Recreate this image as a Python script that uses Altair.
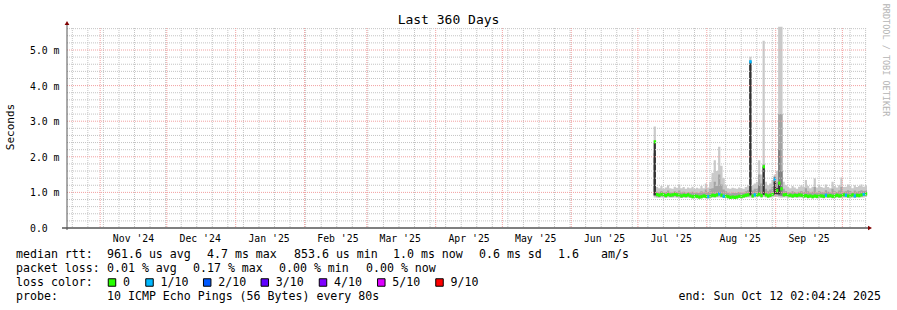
import altair as alt
import pandas as pd
from datetime import datetime, timedelta

# ---------------- data ----------------
END = datetime(2025, 10, 12, 2, 4, 24)
START = END - timedelta(days=360)
SPAN = 360.0
YMAX = 5.618

first_day = 264  # day offset (from START) of first sample

median = [2.42, 0.94, 0.92, 0.95, 0.93, 0.91, 0.94, 0.92, 0.93, 0.95, 0.93, 0.92, 0.90, 0.92, 0.91, 0.93,
          0.90, 0.88, 0.90, 0.89, 0.87, 0.88, 0.90, 0.89, 0.88, 0.90,
          0.92, 0.91, 0.93, 0.96, 0.92, 0.89, 0.90, 0.88, 0.86, 0.87,
          0.86, 0.87, 0.89, 0.88, 0.90, 0.92, 0.93,
          4.67, 0.90, 0.93, 0.92, 0.95, 0.91, 1.72,
          0.93, 0.90, 0.92, 0.95, 1.37, 1.05, 1.26, 1.10,
          0.93, 0.94, 0.91, 0.92, 0.90, 0.92, 0.91, 0.93,
          0.92, 0.90, 0.91, 0.89, 0.90, 0.88, 0.90, 0.89, 0.91, 0.90,
          0.89, 0.92, 0.90, 0.91, 0.89, 0.90, 0.92, 0.90, 0.91, 0.93,
          0.92, 0.90, 0.91, 0.93, 0.90, 0.92, 0.91, 0.93, 0.95, 0.96]

loss_days = [288, 293, 295, 307, 309, 318, 341, 350, 354, 358]  # 1/10 loss

smoke_lo = [0.86, 0.85, 0.84, 0.86, 0.85, 0.84, 0.86, 0.85, 0.85, 0.86, 0.85, 0.84, 0.84, 0.85, 0.84, 0.85,
            0.84, 0.83, 0.84, 0.83, 0.82, 0.83, 0.84, 0.83, 0.83, 0.84,
            0.85, 0.85, 0.86, 0.86, 0.85, 0.84, 0.84, 0.83, 0.82, 0.82,
            0.82, 0.83, 0.84, 0.83, 0.84, 0.85, 0.86,
            0.86, 0.85, 0.86, 0.86, 0.87, 0.85, 0.87,
            0.86, 0.84, 0.85, 0.86, 0.87, 0.87, 0.86, 0.85,
            0.86, 0.86, 0.85, 0.85, 0.84, 0.85, 0.84, 0.85,
            0.85, 0.84, 0.84, 0.83, 0.84, 0.83, 0.84, 0.83, 0.84, 0.84,
            0.83, 0.84, 0.84, 0.84, 0.83, 0.84, 0.85, 0.84, 0.84, 0.85,
            0.85, 0.84, 0.84, 0.85, 0.84, 0.85, 0.85, 0.86, 0.86, 0.87]

smoke_hi = [2.85, 1.15, 1.12, 1.18, 1.10, 1.14, 1.20, 1.12, 1.10, 1.16, 1.13, 1.22, 1.12, 1.15, 1.10, 1.14,
            1.12, 1.16, 1.10, 1.13, 1.11, 1.18, 1.12, 1.25, 1.14, 1.30,
            1.55, 1.90, 1.60, 2.28, 1.75, 1.40, 1.20, 1.12, 1.10, 1.13,
            1.12, 1.10, 1.14, 1.12, 1.10, 1.15, 1.20,
            4.81, 1.20, 1.25, 1.30, 1.90, 1.50, 5.26,
            1.30, 1.20, 1.25, 1.35, 1.50, 1.60, 5.65, 5.65,
            1.30, 1.20, 1.15, 1.12, 1.18, 1.14, 1.10, 1.16,
            1.20, 1.15, 1.35, 1.18, 1.12, 1.16, 1.40, 1.14, 1.20, 1.15,
            1.13, 1.22, 1.15, 1.12, 1.30, 1.18, 1.14, 1.20, 1.42, 1.15,
            1.16, 1.22, 1.18, 1.12, 1.20, 1.15, 1.18, 1.22, 1.16, 1.20]

inner_lo = [0.90, 0.88, 0.87, 0.89, 0.88, 0.87, 0.89, 0.88, 0.88, 0.89, 0.88, 0.87, 0.86, 0.88, 0.87, 0.88,
            0.87, 0.85, 0.87, 0.86, 0.85, 0.86, 0.87, 0.86, 0.86, 0.87,
            0.88, 0.88, 0.89, 0.90, 0.88, 0.87, 0.87, 0.86, 0.84, 0.85,
            0.84, 0.85, 0.87, 0.86, 0.87, 0.88, 0.89,
            0.90, 0.88, 0.89, 0.89, 0.90, 0.88, 0.91,
            0.89, 0.87, 0.88, 0.90, 0.91, 0.92, 0.90, 0.89,
            0.89, 0.90, 0.88, 0.88, 0.87, 0.88, 0.87, 0.88,
            0.88, 0.87, 0.87, 0.86, 0.87, 0.86, 0.87, 0.86, 0.87, 0.87,
            0.86, 0.88, 0.87, 0.87, 0.86, 0.87, 0.88, 0.87, 0.87, 0.89,
            0.88, 0.87, 0.87, 0.89, 0.87, 0.88, 0.88, 0.89, 0.90, 0.91]

inner_hi = [2.00, 1.02, 1.00, 1.04, 0.99, 1.01, 1.05, 1.00, 1.00, 1.03, 1.01, 1.06, 1.00, 1.02, 0.99, 1.01,
            1.00, 1.02, 0.98, 1.00, 0.98, 1.03, 1.00, 1.08, 1.01, 1.10,
            1.12, 1.30, 1.18, 1.50, 1.22, 1.08, 1.03, 0.99, 0.97, 0.99,
            0.98, 0.98, 1.01, 1.00, 0.99, 1.03, 1.06,
            4.70, 1.05, 1.10, 1.12, 1.50, 1.25, 1.80,
            1.10, 1.03, 1.08, 1.15, 1.44, 1.30, 3.20, 3.20,
            1.10, 1.04, 1.01, 1.00, 1.03, 1.01, 0.99, 1.02,
            1.04, 1.01, 1.12, 1.03, 1.00, 1.02, 1.15, 1.00, 1.04, 1.01,
            1.00, 1.06, 1.02, 1.00, 1.10, 1.03, 1.01, 1.05, 1.15, 1.02,
            1.03, 1.06, 1.04, 1.00, 1.05, 1.02, 1.04, 1.06, 1.04, 1.06]

dark_days = [264, 311, 318, 320, 321]
dark_lo = [0.92, 0.92, 0.93, 0.92, 0.91]
dark_hi = [2.10, 1.20, 1.44, 2.20, 1.60]

black_days = [264, 307, 313, 318, 319, 320]
black_lo = [0.92, 0.92, 0.93, 0.95, 0.95, 0.95]
black_hi = [2.42, 4.67, 1.72, 1.30, 1.12, 1.26]

month_labels = ["Nov '24", "Dec '24", "Jan '25", "Feb '25", "Mar '25", "Apr '25",
                "May '25", "Jun '25", "Jul '25", "Aug '25", "Sep '25"]
month_label_dates = [datetime(2024, 11, 16), datetime(2024, 12, 16), datetime(2025, 1, 16),
                     datetime(2025, 2, 16), datetime(2025, 3, 16), datetime(2025, 4, 16),
                     datetime(2025, 5, 16), datetime(2025, 6, 16), datetime(2025, 7, 16),
                     datetime(2025, 8, 16), datetime(2025, 9, 16)]
month_starts = [datetime(2024, 11, 1), datetime(2024, 12, 1), datetime(2025, 1, 1),
                datetime(2025, 2, 1), datetime(2025, 3, 1), datetime(2025, 4, 1),
                datetime(2025, 5, 1), datetime(2025, 6, 1), datetime(2025, 7, 1),
                datetime(2025, 8, 1), datetime(2025, 9, 1), datetime(2025, 10, 1)]
y_ticks = [0, 1, 2, 3, 4, 5]

loss_names = ["0", "1/10", "2/10", "3/10", "4/10", "5/10", "9/10"]
loss_colors = ["#26ff00", "#00b8ff", "#0059ff", "#5e00ff", "#7e00ff", "#dd00ff", "#ff0000"]

# ---------------- helpers ----------------
MONO = "DejaVu Sans Mono"
PL, PT = 67, 28  # plot origin in page pixels
W, H = 800, 200


def dayof(dt):
    return (dt - START).total_seconds() / 86400.0


xs = alt.Scale(domain=[0, SPAN], nice=False, zero=False)
ys = alt.Scale(domain=[0, YMAX], nice=False, zero=False)

days = [first_day + i for i in range(len(median))]
smoke = pd.DataFrame({"day": days, "lo": smoke_lo, "hi": smoke_hi, "lo2": inner_lo, "hi2": inner_hi})
smoke = pd.concat([smoke, smoke.tail(1).assign(day=SPAN)], ignore_index=True)

med = pd.DataFrame({"day": days, "m": median,
                    "loss": ["1/10" if d in loss_days else "0" for d in days]})
dark = pd.DataFrame({"day": dark_days, "lo": dark_lo, "hi": dark_hi})
black = pd.DataFrame({"day": black_days, "lo": black_lo, "hi": black_hi})

band1 = alt.Chart(smoke).mark_area(interpolate="step-after", color="#cacaca").encode(
    x=alt.X("day:Q", scale=xs, axis=None), y=alt.Y("lo:Q", scale=ys, axis=None), y2="hi:Q")
band2 = alt.Chart(smoke).mark_area(interpolate="step-after", color="#a4a4a4").encode(
    x=alt.X("day:Q", scale=xs, axis=None), y=alt.Y("lo2:Q", scale=ys, axis=None), y2="hi2:Q")
band3 = alt.Chart(dark).transform_calculate(d2="datum.day + 1").mark_rect(color="#7e7e7e").encode(
    x=alt.X("day:Q", scale=xs, axis=None), x2="d2:Q", y=alt.Y("lo:Q", scale=ys, axis=None), y2="hi:Q")
band5 = alt.Chart(black).transform_calculate(d2="datum.day + 1").mark_rect(color="#323232").encode(
    x=alt.X("day:Q", scale=xs, axis=None), x2="d2:Q", y=alt.Y("lo:Q", scale=ys, axis=None), y2="hi:Q")

half = 1.6 * YMAX / H
med_layer = alt.Chart(med).transform_calculate(
    d2="datum.day + 1.1", a=f"datum.m - {half}", b=f"datum.m + {half}"
).mark_rect().encode(
    x=alt.X("day:Q", scale=xs, axis=None), x2="d2:Q",
    y=alt.Y("a:Q", scale=ys, axis=None), y2="b:Q",
    color=alt.Color("loss:N", scale=alt.Scale(domain=loss_names, range=loss_colors), legend=None))

# grid
minor_h = [round(0.2 * k, 1) for k in range(1, 29) if k % 5 != 0]
major_h = [1, 2, 3, 4, 5]
minor_v = [2.385 + 7 * k for k in range(0, 52) if 2.385 + 7 * k < SPAN]
major_v = [dayof(d) for d in month_starts]

gh_minor = alt.Chart(pd.DataFrame({"v": minor_h})).mark_rule(color="#c4c4c4", strokeDash=[1, 1], strokeWidth=1).encode(
    y=alt.Y("v:Q", scale=ys, axis=None), x=alt.value(0), x2=alt.value(W))
gv_minor = alt.Chart(pd.DataFrame({"v": minor_v})).mark_rule(color="#c4c4c4", strokeDash=[1, 1], strokeWidth=1).encode(
    x=alt.X("v:Q", scale=xs, axis=None), y=alt.value(0), y2=alt.value(H))
gh_major = alt.Chart(pd.DataFrame({"v": major_h})).mark_rule(color="#f2a0a0", strokeDash=[1, 1], strokeWidth=1).encode(
    y=alt.Y("v:Q", scale=ys, axis=None), x=alt.value(0), x2=alt.value(W))
gv_major = alt.Chart(pd.DataFrame({"v": major_v})).mark_rule(color="#f2a0a0", strokeDash=[1, 1], strokeWidth=1).encode(
    x=alt.X("v:Q", scale=xs, axis=None), y=alt.value(0), y2=alt.value(H))

one = alt.Data(values=[{"a": 1}])

xaxis = alt.Chart(one).mark_rule(color="#000000", strokeWidth=1).encode(
    x=alt.value(-5), x2=alt.value(W + 3), y=alt.value(H))
yaxis = alt.Chart(one).mark_rule(color="#555555", strokeWidth=1).encode(
    x=alt.value(0), y=alt.value(H + 2), y2=alt.value(-4))
arrow_up = alt.Chart(one).mark_point(shape="triangle-up", filled=True, size=22, color="#800000", opacity=1).encode(
    x=alt.value(0), y=alt.value(-5))
arrow_right = alt.Chart(one).mark_point(shape="triangle-right", filled=True, size=22, color="#800000", opacity=1).encode(
    x=alt.value(W + 3), y=alt.value(H))

ylabels = alt.Chart(pd.DataFrame({"v": y_ticks, "t": ["0.0"] + [f"{v:.1f} m" for v in y_ticks[1:]]})).mark_text(
    align="left", baseline="middle", font=MONO, fontSize=9.8, color="#000000", dy=1).encode(
    y=alt.Y("v:Q", scale=ys, axis=None), x=alt.value(30 - PL), text="t:N")
xlabels = alt.Chart(pd.DataFrame({"v": [dayof(d) for d in month_label_dates], "t": month_labels})).mark_text(
    align="center", baseline="middle", font=MONO, fontSize=9.8, color="#000000").encode(
    x=alt.X("v:Q", scale=xs, axis=None), y=alt.value(238.5 - PT), text="t:N")


def txt(s, px, py, size=11.6, align="left", color="#000000", angle=0):
    return alt.Chart(one).mark_text(align=align, baseline="middle", font=MONO, fontSize=size,
                                     color=color, angle=angle).encode(
        x=alt.value(px - PL), y=alt.value(py - PT), text=alt.value(s))


texts = [
    txt("Last 360 Days", 448.5, 19.5, size=13, align="center"),
    txt("Seconds", 10.5, 127, size=11, align="center", angle=270),
    txt("RRDTOOL / TOBI OETIKER", 885.5, 60, size=8.5, align="center", color="#b4b4b4", angle=90),
]

row1 = [("median rtt:", 16), ("961.6 us avg", 107), ("4.7 ms max", 207), ("853.6 us min", 294),
        ("1.0 ms now", 393), ("0.6 ms sd", 479), ("1.6", 558), ("am/s", 601)]
row2 = [("packet loss:", 16), ("0.01 % avg", 107), ("0.17 % max", 193), ("0.00 % min", 279),
        ("0.00 % now", 366)]
row4 = [("probe:", 16), ("10 ICMP Echo Pings (56 Bytes) every 80s", 107)]
for s, px in row1:
    texts.append(txt(s, px, 255))
for s, px in row2:
    texts.append(txt(s, px, 269))
texts.append(txt("loss color:", 16, 283))
for s, px in row4:
    texts.append(txt(s, px, 297))
texts.append(txt("end: Sun Oct 12 02:04:24 2025", 881, 297, align="right"))

sq_x = [112, 149.5, 207.2, 264.8, 323, 381.3, 439.5]
lab_x = [123, 160.5, 218.2, 275.8, 334, 392.3, 450.5]
squares = []
for name, col, sx, lx in zip(loss_names, loss_colors, sq_x, lab_x):
    squares.append(alt.Chart(one).mark_square(size=56, fill=col, stroke="#000000", strokeWidth=1,
                                              opacity=1, fillOpacity=1).encode(
        x=alt.value(sx - PL), y=alt.value(282.5 - PT)))
    texts.append(txt(name, lx, 283))

chart = alt.layer(
    band1, band2, band3, band5, med_layer,
    gh_minor, gv_minor, gh_major, gv_major,
    xaxis, yaxis, arrow_up, arrow_right,
    ylabels, xlabels, *texts, *squares
).properties(
    width=W, height=H,
    padding={"left": PL, "top": PT, "right": 897 - PL - W, "bottom": 310 - PT - H},
    autosize=alt.AutoSizeParams(type="none"),
    background="#ffffff",
).configure_view(stroke=None)

chart.save("out.html", embed_options={"renderer": "svg", "actions": False})
